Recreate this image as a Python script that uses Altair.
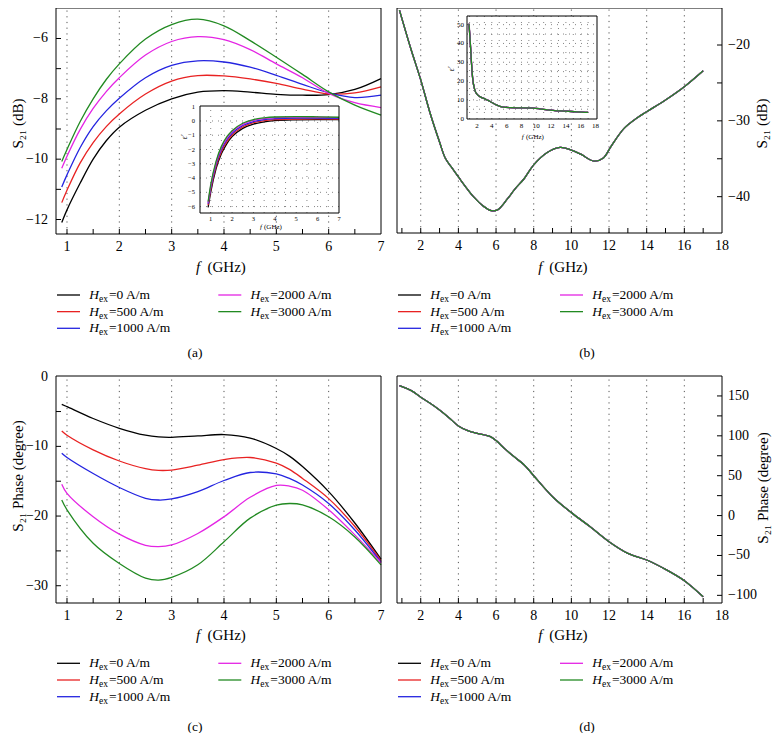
import altair as alt
import pandas as pd

FONT = "Liberation Serif"
W, H = 767, 725

KEYS = ["0", "500", "1000", "2000", "3000"]
LABELS = ["=0 A/m", "=500 A/m", "=1000 A/m", "=2000 A/m", "=3000 A/m"]
COLORS = ["#000000", "#e82222", "#2424e0", "#e424e4", "#228a22"]

# ---------------- (a) S21 magnitude, 0.9-7 GHz ----------------
A_F = [0.9, 1.0, 1.25, 1.5, 1.75, 2.0, 2.5, 3.0, 3.5, 4.0, 4.5, 5.0, 5.5, 6.0, 6.5, 7.0]
A_S21 = {
    "0":    [-12.10, -11.68, -10.80, -10.00, -9.39, -8.94, -8.38, -8.00, -7.78, -7.73, -7.78, -7.85, -7.88, -7.86, -7.69, -7.33],
    "500":  [-11.44, -11.03, -10.13, -9.45, -8.92, -8.50, -7.84, -7.41, -7.23, -7.24, -7.34, -7.49, -7.68, -7.84, -7.80, -7.60],
    "1000": [-10.92, -10.52, -9.62, -8.92, -8.40, -7.98, -7.30, -6.89, -6.74, -6.78, -6.95, -7.22, -7.52, -7.80, -7.96, -7.88],
    "2000": [-10.30, -9.90, -9.02, -8.32, -7.76, -7.30, -6.55, -6.10, -5.94, -6.04, -6.37, -6.84, -7.30, -7.82, -8.13, -8.29],
    "3000": [-10.08, -9.68, -8.76, -8.00, -7.36, -6.84, -6.02, -5.54, -5.36, -5.58, -6.07, -6.62, -7.19, -7.77, -8.21, -8.54],
}
# inset (a): epsilon'
IA_F = [0.88, 1.0, 1.25, 1.5, 1.75, 2.0, 2.5, 3.0, 3.5, 4.0, 5.0, 6.0, 7.0]
IA_EPS = {
    "0":    [-6.05, -5.00, -3.35, -2.30, -1.60, -1.10, -0.52, -0.22, -0.07, 0.02, 0.08, 0.10, 0.10],
    "500":  [-5.90, -4.85, -3.20, -2.15, -1.47, -0.98, -0.42, -0.12, 0.02, 0.09, 0.14, 0.15, 0.14],
    "1000": [-5.80, -4.70, -3.05, -2.00, -1.33, -0.86, -0.32, -0.04, 0.10, 0.16, 0.21, 0.21, 0.19],
    "2000": [-5.72, -4.58, -2.93, -1.88, -1.22, -0.76, -0.24, 0.04, 0.17, 0.23, 0.27, 0.26, 0.24],
    "3000": [-5.65, -4.48, -2.83, -1.78, -1.12, -0.68, -0.16, 0.10, 0.22, 0.28, 0.31, 0.29, 0.26],
}

# ---------------- (b) S21 magnitude, 0.9-17 GHz ----------------
B_F = [0.87, 1.5, 2.0, 2.5, 3.0, 3.3, 3.6, 4.0, 4.8, 5.3, 5.75, 6.1, 6.6, 7.0, 7.5, 8.0,
       8.7, 9.4, 10.0, 10.5, 11.2, 11.7, 12.1, 12.8, 13.5, 14.0, 15.0, 16.0, 17.0]
B_S21_CURVE = [-15.4, -20.7, -24.6, -29.0, -32.8, -34.9, -36.0, -37.4, -40.0, -41.2, -41.85, -41.7,
               -40.3, -39.0, -37.6, -35.8, -34.2, -33.5, -33.85, -34.4, -35.3, -34.9, -33.4, -31.0,
               -29.6, -28.8, -27.25, -25.5, -23.4]
B_S21 = {k: B_S21_CURVE for k in KEYS}
# inset (b): epsilon'
IB_F = [0.92, 1.1, 1.25, 1.4, 1.7, 2.0, 2.4, 3.0, 3.5, 4.0, 4.6, 5.5, 6.5, 8.0, 9.5, 10.5,
        11.5, 12.5, 14.0, 15.5, 17.0]
IB_EPS_CURVE = [50.5, 40.0, 30.0, 22.0, 15.3, 13.0, 11.7, 10.6, 9.7, 8.6, 7.3, 6.1, 5.8, 5.7,
                5.6, 5.2, 4.6, 4.3, 4.0, 3.6, 3.3]
IB_EPS = {k: IB_EPS_CURVE for k in KEYS}

# ---------------- (c) S21 phase, 0.9-7 GHz ----------------
C_F = [0.9, 1.0, 1.5, 2.0, 2.5, 2.75, 3.0, 3.5, 4.0, 4.5, 5.0, 5.25, 5.5, 6.0, 6.5, 7.0]
C_PH = {
    "0":    [-3.97, -4.30, -6.00, -7.40, -8.40, -8.65, -8.70, -8.50, -8.30, -8.80, -10.30, -11.40, -12.90, -16.50, -21.00, -26.20],
    "500":  [-7.80, -8.40, -10.50, -12.10, -13.20, -13.45, -13.40, -12.70, -11.90, -11.60, -12.40, -13.30, -14.60, -17.50, -21.50, -26.40],
    "1000": [-11.00, -11.60, -13.90, -15.90, -17.45, -17.70, -17.55, -16.50, -14.90, -13.75, -13.95, -14.60, -15.55, -18.20, -22.00, -26.60],
    "2000": [-15.45, -16.75, -20.10, -22.60, -24.20, -24.40, -24.15, -22.50, -20.10, -17.30, -15.60, -15.70, -16.30, -19.10, -22.70, -26.70],
    "3000": [-17.70, -19.10, -23.90, -26.80, -28.90, -29.20, -28.80, -27.00, -23.70, -20.30, -18.45, -18.20, -18.40, -20.10, -23.00, -27.00],
}

# ---------------- (d) S21 phase, 0.9-17 GHz ----------------
D_F = [0.87, 1.5, 2.0, 2.5, 3.0, 3.5, 4.0, 4.5, 5.0, 5.7, 6.0, 6.5, 7.0, 7.5, 8.0, 9.0,
       10.0, 11.0, 12.0, 13.0, 14.0, 15.0, 16.0, 17.0]
D_PH_CURVE = [163, 156.7, 148.3, 140.8, 132.4, 122.8, 112.4, 106.5, 103.2, 99, 94, 83, 73, 63.5,
              50, 23.7, 3.7, -14, -32.7, -47.3, -55.7, -67.4, -81.6, -101.7]
D_PH = {k: D_PH_CURVE for k in KEYS}

# tick values / labels
A_XLAB = [1, 2, 3, 4, 5, 6, 7]
A_XTICK = [1, 1.5, 2, 2.5, 3, 3.5, 4, 4.5, 5, 5.5, 6, 6.5]
A_YLAB = [-12, -10, -8, -6]
A_YTICK = [-12, -11, -10, -9, -8, -7, -6]
B_XLAB = [2, 4, 6, 8, 10, 12, 14, 16, 18]
B_XTICK = list(range(1, 18))
B_YLAB = [-20, -30, -40]
B_YTICK = [-40, -35, -30, -25, -20]
C_YLAB = [0, -10, -20, -30]
C_YTICK = [-30, -25, -20, -15, -10, -5]
D_YLAB = [150, 100, 50, 0, -50, -100]
D_YTICK = [-100, -75, -50, -25, 0, 25, 50, 75, 100, 125, 150]
IA_XLAB = [1, 2, 3, 4, 5, 6, 7]
IA_YLAB = [1, 0, -1, -2, -3, -4, -5, -6]
IA_XGRID = [1, 1.5, 2, 2.5, 3, 3.5, 4, 4.5, 5, 5.5, 6, 6.5]
IA_YGRID = [0, -1, -2, -3, -4, -5, -6]
IB_XLAB = [2, 4, 6, 8, 10, 12, 14, 16, 18]
IB_YLAB = [0, 10, 20, 30, 40, 50]
IB_XGRID = list(range(1, 18))
IB_YGRID = [5, 10, 15, 20, 25, 30, 35, 40, 45, 50]


def long_df(f, d):
    rows = []
    for i, k in enumerate(KEYS):
        for x, v in zip(f, d[k]):
            rows.append({"f": x, "v": v, "s": k, "o": i})
    return pd.DataFrame(rows)


def cscale():
    return alt.Scale(domain=KEYS, range=COLORS)


def scales(fdom, ydom, px, py):
    X = alt.Scale(domain=fdom, range=[px[0], px[1]], nice=False, zero=False)
    Y = alt.Scale(domain=ydom, range=[py[1], py[0]], nice=False, zero=False)
    return X, Y


def frame_df(fdom, ydom):
    return pd.DataFrame({"x0": [fdom[0]], "x1": [fdom[1]], "y0": [ydom[0]], "y1": [ydom[1]]})


def tick_labels(X, Y, xvals, yvals, fdom, ydom, side, fs, xdy, ydx):
    xl = pd.DataFrame({"t": xvals})
    xl["y0"] = ydom[0]
    xlab = alt.Chart(xl).mark_text(font=FONT, fontSize=fs, color="black", align="center",
                                   baseline="middle", dy=xdy).encode(
        x=alt.X("t:Q", scale=X, axis=None), y=alt.Y("y0:Q", scale=Y, axis=None),
        text=alt.Text("t:Q", format="d"))
    yl = pd.DataFrame({"t": yvals})
    yl["x0"] = fdom[0] if side == "left" else fdom[1]
    ylab = alt.Chart(yl).mark_text(font=FONT, fontSize=fs, color="black",
                                   align="right" if side == "left" else "left",
                                   baseline="middle", dx=ydx).encode(
        x=alt.X("x0:Q", scale=X, axis=None), y=alt.Y("t:Q", scale=Y, axis=None),
        text=alt.Text("t:Q", format="d"))
    return [xlab, ylab]


def main_panel(f, d, fdom, ydom, px, py, xlab, xtick, ylab, ytick, grid_vals, side):
    X, Y = scales(fdom, ydom, px, py)
    gdf = pd.DataFrame({"g": grid_vals})
    gdf["y0"] = ydom[0]
    gdf["y1"] = ydom[1]
    grid = alt.Chart(gdf).mark_rule(color="#555555", strokeWidth=1, strokeDash=[1.2, 4.5]).encode(
        x=alt.X("g:Q", scale=X, axis=None),
        y=alt.Y("y0:Q", scale=Y, axis=None), y2="y1:Q")
    lines = alt.Chart(long_df(f, d)).mark_line(strokeWidth=1.3, interpolate="catmull-rom").encode(
        x=alt.X("f:Q", scale=X, axis=None),
        y=alt.Y("v:Q", scale=Y, axis=None),
        color=alt.Color("s:N", scale=cscale(), legend=None),
        detail="o:Q")
    frame = alt.Chart(frame_df(fdom, ydom)).mark_rect(fillOpacity=0, stroke="black",
                                                      strokeWidth=1).encode(
        x=alt.X("x0:Q", scale=X, axis=None), x2="x1:Q",
        y=alt.Y("y0:Q", scale=Y, axis=None), y2="y1:Q")
    xt_df = pd.DataFrame({"t": xtick})
    xt_df["y0"] = ydom[0]
    xt = alt.Chart(xt_df).mark_tick(orient="vertical", size=5, thickness=1, yOffset=-2.5,
                                    color="black", opacity=1).encode(
        x=alt.X("t:Q", scale=X, axis=None), y=alt.Y("y0:Q", scale=Y, axis=None))
    yt_df = pd.DataFrame({"t": ytick})
    yt_df["x0"] = fdom[0] if side == "left" else fdom[1]
    yt = alt.Chart(yt_df).mark_tick(orient="horizontal", size=5, thickness=1,
                                    xOffset=2.5 if side == "left" else -2.5,
                                    color="black", opacity=1).encode(
        x=alt.X("x0:Q", scale=X, axis=None), y=alt.Y("t:Q", scale=Y, axis=None))
    labs = tick_labels(X, Y, xlab, ylab, fdom, ydom, side, 14, 12.5,
                       -8 if side == "left" else 6)
    return alt.layer(grid, lines, frame, xt, yt, *labs)


def inset_panel(f, d, fdom, ydom, px, py, xlab, ylab, xg, yg, fs, xdy, ydx):
    X, Y = scales(fdom, ydom, px, py)
    fr = frame_df(fdom, ydom)
    box = alt.Chart(fr).mark_rect(fill="white", strokeOpacity=0).encode(
        x=alt.X("x0:Q", scale=X, axis=None), x2="x1:Q",
        y=alt.Y("y0:Q", scale=Y, axis=None), y2="y1:Q")
    gx_df = pd.DataFrame({"g": xg})
    gx_df["y0"] = ydom[0]
    gx_df["y1"] = ydom[1]
    gx = alt.Chart(gx_df).mark_rule(color="#666666", strokeWidth=0.8, strokeDash=[1, 5]).encode(
        x=alt.X("g:Q", scale=X, axis=None),
        y=alt.Y("y0:Q", scale=Y, axis=None), y2="y1:Q")
    gy_df = pd.DataFrame({"g": yg})
    gy_df["x0"] = fdom[0]
    gy_df["x1"] = fdom[1]
    gy = alt.Chart(gy_df).mark_rule(color="#666666", strokeWidth=0.8, strokeDash=[1, 5]).encode(
        y=alt.Y("g:Q", scale=Y, axis=None),
        x=alt.X("x0:Q", scale=X, axis=None), x2="x1:Q")
    lines = alt.Chart(long_df(f, d)).mark_line(strokeWidth=1.3, interpolate="monotone").encode(
        x=alt.X("f:Q", scale=X, axis=None),
        y=alt.Y("v:Q", scale=Y, axis=None),
        color=alt.Color("s:N", scale=cscale(), legend=None),
        detail="o:Q")
    frame = alt.Chart(fr).mark_rect(fillOpacity=0, stroke="black", strokeWidth=1).encode(
        x=alt.X("x0:Q", scale=X, axis=None), x2="x1:Q",
        y=alt.Y("y0:Q", scale=Y, axis=None), y2="y1:Q")
    labs = tick_labels(X, Y, xlab, ylab, fdom, ydom, "left", fs, xdy, ydx)
    return alt.layer(box, gx, gy, lines, frame, *labs)


def legend_block(xr, yr):
    leg = pd.DataFrame({"s": KEYS, "lab": LABELS})
    leg["col"] = [0, 0, 0, 1, 1]
    leg["row"] = [0, 1, 2, 0, 1]
    LX = alt.Scale(domain=[0, 1], range=xr, nice=False, zero=False)
    LY = alt.Scale(domain=[0, 2], range=yr, nice=False, zero=False)
    base = alt.Chart(leg).encode(x=alt.X("col:Q", scale=LX, axis=None),
                                 y=alt.Y("row:Q", scale=LY, axis=None))
    rule = base.mark_rule(strokeWidth=1.3, x2Offset=23).encode(
        x2="col:Q", color=alt.Color("s:N", scale=cscale(), legend=None))
    h = base.mark_text(text="H", dx=32.3, align="left", baseline="middle", font=FONT,
                       fontStyle="italic", fontSize=13.5, color="black")
    ex = base.mark_text(text="ex", dx=42, dy=4, align="left", baseline="middle", font=FONT,
                        fontSize=9.5, color="black")
    lab = base.mark_text(dx=52, align="left", baseline="middle", font=FONT, fontSize=13.5,
                         color="black").encode(text="lab:N")
    return alt.layer(rule, h, ex, lab)


def txt(s, x, y, size=14, style="normal", align="left", angle=0):
    return alt.Chart(pd.DataFrame({"t": [s]})).mark_text(
        align=align, baseline="middle", font=FONT, fontSize=size, fontStyle=style,
        angle=angle, color="black").encode(text="t:N", x=alt.value(x), y=alt.value(y))


pa = main_panel(A_F, A_S21, [0.79, 7], [-12.48, -4.99], (48, 373), (0, 226),
                A_XLAB, A_XTICK, A_YLAB, A_YTICK, [1, 2, 3, 4, 5, 6], "left")
ia = inset_panel(IA_F, IA_EPS, [0.5, 7], [-6.45, 1.05], (192, 331), (98, 205),
                 IA_XLAB, IA_YLAB, IA_XGRID, IA_YGRID, 6.5, 5.5, -5)
pb = main_panel(B_F, B_S21, [0.74, 18], [-44.79, -15.12], (389, 714), (0, 225),
                B_XLAB, B_XTICK, B_YLAB, B_YTICK, [2, 4, 6, 8, 10, 12, 14, 16], "right")
ib = inset_panel(IB_F, IB_EPS, [0.65, 18.2], [-0.2, 54.6], (459, 589), (8, 111),
                 IB_XLAB, IB_YLAB, IB_XGRID, IB_YGRID, 7, 7, -3)
pc = main_panel(C_F, C_PH, [0.79, 7], [-32.48, 0.1], (48, 373), (368, 595),
                A_XLAB, A_XTICK, C_YLAB, C_YTICK, [1, 2, 3, 4, 5, 6], "left")
pd_ = main_panel(D_F, D_PH, [0.74, 18], [-109.6, 175], (389, 714), (368, 595),
                 B_XLAB, B_XTICK, D_YLAB, D_YTICK, [2, 4, 6, 8, 10, 12, 14, 16], "right")

legs = [legend_block([49, 210.3], [287, 320.3]),
        legend_block([390, 552], [287, 320.3]),
        legend_block([49, 210.3], [655.3, 688.7]),
        legend_block([390, 552], [655.3, 688.7])]

texts = [
    txt("S₂₁ (dB)", 9.5, 115.5, 15, align="center", angle=270),
    txt("S₂₁ (dB)", 754, 115.5, 15, align="center", angle=270),
    txt("S₂₁ Phase (degree)", 9.5, 468, 15, align="center", angle=270),
    txt("S₂₁ Phase (degree)", 755, 480, 15, align="center", angle=270),
    txt("ε′", 177, 129, 7.5, "italic", align="center", angle=270),
    txt("ε′", 444, 61, 7.5, "italic", align="center", angle=270),
    txt("f", 188, 258.5, 15, "italic"), txt("(GHz)", 199.5, 258.5, 15),
    txt("f", 530.3, 258.5, 15, "italic"), txt("(GHz)", 541.3, 258.5, 15),
    txt("f", 188, 626.5, 15, "italic"), txt("(GHz)", 199.5, 626.5, 15),
    txt("f", 530.3, 626.5, 15, "italic"), txt("(GHz)", 541.3, 626.5, 15),
    txt("f", 252, 218.7, 7, "italic"), txt("(GHz)", 256, 218.7, 7),
    txt("f", 513.7, 128.7, 7, "italic"), txt("(GHz)", 518, 128.7, 7),
    txt("(a)", 187, 345, 13.5, align="center"), txt("(b)", 579, 345, 13.5, align="center"),
    txt("(c)", 187, 719, 13.5, align="center"), txt("(d)", 579, 719, 13.5, align="center"),
]

chart = alt.layer(pa, ia, pb, ib, pc, pd_, *legs, *texts).resolve_scale(
    x="independent", y="independent", color="independent"
).properties(
    width=W, height=H, autosize=alt.AutoSizeParams(type="none"), padding=0, background="white"
).configure_view(stroke="transparent")

chart.save("out.html", embed_options={"renderer": "svg", "actions": False})
